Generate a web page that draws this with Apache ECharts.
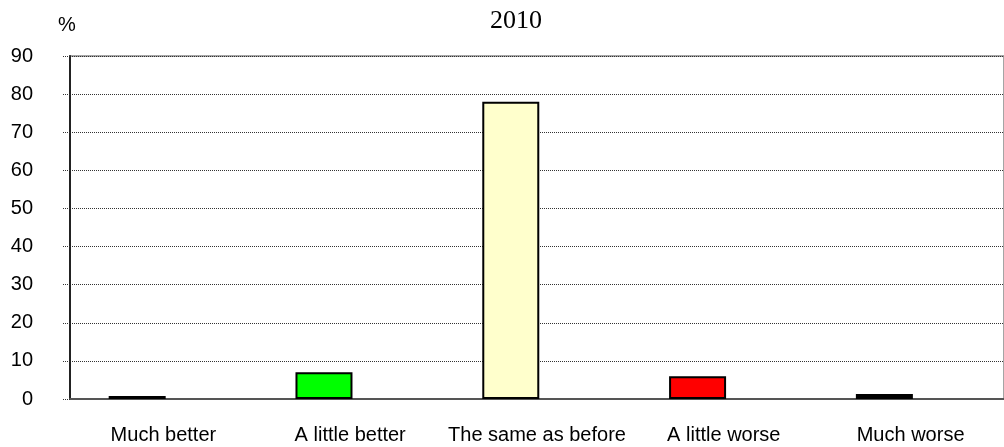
<!DOCTYPE html>
<html>
<head>
<meta charset="utf-8">
<script src="https://cdn.jsdelivr.net/npm/echarts@6/dist/echarts.min.js"></script>
<style>
  html, body { margin: 0; padding: 0; background: #fff; }
  #chart { width: 1004px; height: 447px; }
</style>
</head>
<body>
<div id="chart"></div>
<script>
// 数据
var categories = ["Much better", "A little better", "The same as before", "A little worse", "Much worse"];
var values2010 = [0.8, 7, 78, 6, 1.3];
var emptySeries = [null, null, null, null, null];
var barColors = ["#000000", "#00ff00", "#ffffcc", "#ff0000", "#000000"];
var yTicks = { min: 0, max: 90, interval: 10 };

(function () {
    var myChart = echarts.init(document.getElementById("chart"));
    var font = "'Liberation Sans', Arial, sans-serif";

    var option = {
        animation: false,
        title: {
            text: "2010",
            left: 485,
            top: 3,
            textStyle: {
                fontFamily: "'Liberation Serif', 'Times New Roman', serif",
                fontWeight: "normal",
                fontSize: 26,
                color: "#000"
            }
        },
        grid: {
            left: 70,
            right: -11,
            top: 56,
            bottom: 48,
            show: true,
            borderColor: "#888",
            borderWidth: 1.5
        },
        xAxis: {
            type: "category",
            data: categories,
            axisLine: { lineStyle: { color: "#555", width: 2 } },
            axisTick: { length: 7, lineStyle: { color: "#555", width: 1.5 } },
            axisLabel: {
                color: "#000",
                fontFamily: font,
                fontSize: 20,
                margin: 26,
                interval: 0
            }
        },
        yAxis: {
            type: "value",
            min: yTicks.min,
            max: yTicks.max,
            interval: yTicks.interval,
            name: "%",
            nameLocation: "end",
            nameGap: 21,
            nameTextStyle: {
                color: "#000",
                fontFamily: font,
                fontSize: 20,
                padding: [0, 6, 0, 0]
            },
            axisLine: { show: true, lineStyle: { color: "#222", width: 2 } },
            axisTick: { show: true, length: 7, lineStyle: { color: "#333", type: "dotted" } },
            axisLabel: {
                color: "#000",
                fontFamily: font,
                fontSize: 20,
                margin: 37
            },
            splitLine: { lineStyle: { color: "#333", type: "dotted", width: 1 } }
        },
        series: [
            {
                name: "2010",
                type: "bar",
                barWidth: 57,
                barGap: "-8%",
                data: values2010,
                itemStyle: {
                    color: function (params) {
                        return barColors[params.dataIndex];
                    },
                    borderColor: "#000",
                    borderWidth: 2
                }
            },
            {
                name: "",
                type: "bar",
                barWidth: 57,
                barGap: "-8%",
                data: emptySeries
            }
        ]
    };

    myChart.setOption(option);
    window.addEventListener("resize", function () {
        myChart.resize();
    });
})();
</script>
</body>
</html>
